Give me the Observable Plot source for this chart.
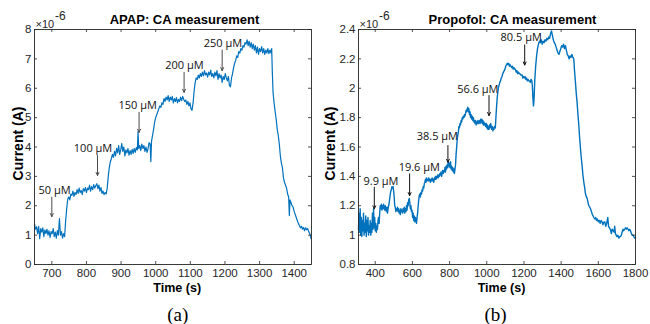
<!DOCTYPE html>
<html>
<head>
<meta charset="utf-8">
<script src="https://cdn.jsdelivr.net/npm/d3@7"></script>
<script src="https://cdn.jsdelivr.net/npm/@observablehq/plot@0.6"></script>
<style>
  html, body { margin: 0; padding: 0; background: #fff; }
  #wrap { position: relative; width: 650px; height: 324px; overflow: hidden; }
  #wrap > div { position: absolute; top: 0; }
  #left { left: 0; }
  #right { left: 325px; }
</style>
</head>
<body>
<div id="wrap"><div id="left"></div><div id="right"></div></div>
<script>
// ---------- Data (current in units of 1e-6 A) ----------
const apapTicksX = [700, 800, 900, 1000, 1100, 1200, 1300, 1400];
const apapTicksY = [0, 1, 2, 3, 4, 5, 6, 7, 8];
const propTicksX = [400, 600, 800, 1000, 1200, 1400, 1600, 1800];
const propTicksY = [0.8, 1.0, 1.2, 1.4, 1.6, 1.8, 2.0, 2.2, 2.4];

const apapSeries = [
[650,1.38],[653,1.2],[656,1.28],[659,1.05],[662,1.3],[665,0.88],[668,1.22],[671,1.1],[674,1.25],[677,0.95],
[680,1.18],[683,1.05],[686,1.2],[689,1.0],[692,1.15],[695,0.92],[698,1.12],[701,1.05],[704,1.22],[707,0.95],
[710,1.1],[713,0.9],[716,1.15],[719,1.0],[722,1.56],[725,1.0],[728,1.12],[731,0.9],[734,1.05],[737,0.95],
[740,1.5],[743,1.9],[746,2.23],[749,2.3],[752,2.2],[755,2.4],[758,2.35],[761,2.5],[764,2.32],[767,2.45],
[770,2.38],[773,2.55],[776,2.42],[779,2.6],[782,2.45],[785,2.52],[788,2.38],[791,2.58],[794,2.5],[797,2.62],
[800,2.45],[803,2.6],[806,2.55],[809,2.7],[812,2.5],[815,2.65],[818,2.55],[821,2.72],[824,2.6],[827,2.68],
[830,2.75],[833,2.58],[836,2.7],[839,2.5],[842,2.62],[845,2.42],[848,2.5],[851,2.38],[854,2.45],[857,2.4],
[860,2.6],[863,3.0],[866,3.3],[869,3.5],[872,3.6],[875,3.75],[878,3.65],[881,3.85],[884,3.7],[887,3.95],
[890,3.8],[893,4.05],[896,3.75],[899,3.9],[902,4.12],[905,3.85],[908,4.0],[911,3.7],[914,3.9],[917,3.8],
[920,3.95],[923,3.72],[926,3.88],[929,3.75],[932,3.92],[935,3.78],[938,3.95],[941,3.82],[944,3.98],[947,3.9],
[949,4.52],[951,3.95],[954,4.05],[957,3.88],[960,4.1],[963,3.95],[966,4.05],[969,3.85],[972,4.0],[975,3.82],
[978,3.95],[981,4.15],[984,4.1],[986,3.5],[988,4.2],[991,4.4],[994,4.6],[997,4.85],[1000,5.0],[1003,5.1],
[1006,5.2],[1009,5.3],[1012,5.4],[1015,5.35],[1018,5.5],[1021,5.45],[1024,5.65],[1027,5.55],[1030,5.7],[1033,5.6],
[1036,5.75],[1039,5.55],[1042,5.7],[1045,5.6],[1048,5.72],[1051,5.5],[1054,5.65],[1057,5.55],[1060,5.68],[1063,5.5],
[1066,5.62],[1069,5.55],[1072,5.7],[1075,5.58],[1078,5.72],[1081,5.62],[1084,5.55],[1087,5.6],[1090,5.45],[1093,5.55],
[1096,5.4],[1099,5.5],[1102,5.3],[1105,5.25],[1108,5.5],[1111,5.9],[1114,6.2],[1117,6.35],[1120,6.3],[1123,6.45],
[1126,6.35],[1129,6.5],[1132,6.4],[1135,6.55],[1138,6.42],[1141,6.6],[1144,6.45],[1147,6.52],[1150,6.38],[1153,6.55],
[1156,6.45],[1159,6.62],[1162,6.4],[1165,6.5],[1168,6.35],[1171,6.55],[1174,6.42],[1177,6.6],[1180,6.3],[1183,6.5],
[1186,6.35],[1189,6.45],[1192,6.2],[1195,6.4],[1198,6.3],[1201,6.5],[1204,6.35],[1207,6.25],[1210,6.4],[1213,6.1],
[1216,6.05],[1219,6.35],[1222,6.5],[1225,6.7],[1228,6.85],[1231,6.95],[1234,7.1],[1237,7.05],[1240,7.25],[1243,7.2],
[1246,7.35],[1249,7.3],[1252,7.45],[1255,7.4],[1258,7.55],[1261,7.5],[1264,7.65],[1267,7.45],[1270,7.6],[1273,7.4],
[1276,7.55],[1279,7.35],[1282,7.5],[1285,7.3],[1288,7.45],[1291,7.2],[1294,7.4],[1297,7.15],[1300,7.35],[1303,7.25],
[1306,7.42],[1309,7.2],[1312,7.35],[1315,7.15],[1318,7.3],[1321,7.2],[1324,7.35],[1327,7.18],[1330,7.3],[1333,7.2],
[1335,7.35],[1337,6.5],[1339,5.85],[1342,5.5],[1345,5.2],[1348,4.95],[1351,4.6],[1354,4.4],[1357,4.1],[1360,3.7],
[1363,3.45],[1366,3.3],[1369,2.95],[1372,2.8],[1375,2.7],[1378,2.6],[1381,2.4],[1384,2.3],[1386,1.67],[1388,2.2],
[1391,2.1],[1394,2.0],[1397,1.95],[1400,1.8],[1403,1.7],[1406,1.6],[1409,1.5],[1412,1.4],[1415,1.33],[1418,1.25],
[1421,1.3],[1424,1.2],[1427,1.26],[1430,1.15],[1433,1.25],[1436,1.18],[1439,1.22],[1442,1.12],[1445,1.05],[1449,0.87]
];

const propSeries = [
[310,1.04],[313,1.15],[316,1.02],[319,1.18],[322,1.0],[325,1.12],[328,0.99],[331,1.1],[334,1.03],[337,1.15],
[340,1.0],[343,1.08],[346,1.02],[349,1.13],[352,0.99],[355,1.1],[358,1.03],[361,1.12],[364,1.0],[367,1.06],
[370,1.02],[373,1.1],[376,1.0],[379,1.08],[382,1.02],[385,1.15],[388,1.04],[391,1.18],[394,1.05],[397,1.12],
[400,1.03],[403,1.08],[406,1.02],[409,1.06],[412,1.04],[415,1.1],[418,1.12],[421,1.08],[424,1.15],[427,1.2],
[430,1.18],[433,1.21],[436,1.17],[439,1.2],[442,1.18],[445,1.21],[448,1.19],[451,1.17],[454,1.2],[457,1.18],
[460,1.16],[463,1.19],[466,1.15],[469,1.18],[472,1.2],[475,1.22],[478,1.25],[481,1.28],[484,1.3],[487,1.31],
[490,1.33],[493,1.32],[496,1.33],[499,1.3],[502,1.26],[505,1.2],[508,1.19],[511,1.16],[514,1.18],[517,1.17],
[520,1.19],[523,1.16],[526,1.18],[529,1.15],[532,1.17],[535,1.14],[538,1.18],[541,1.16],[544,1.17],[547,1.15],
[550,1.18],[553,1.16],[556,1.19],[559,1.15],[562,1.18],[565,1.16],[568,1.2],[571,1.17],[574,1.22],[577,1.2],
[580,1.24],[583,1.25],[586,1.22],[589,1.18],[592,1.2],[595,1.16],[598,1.17],[601,1.12],[604,1.15],[607,1.1],
[610,1.13],[613,1.09],[616,1.12],[619,1.1],[622,1.08],[625,1.12],[628,1.15],[631,1.2],[634,1.24],[637,1.27],
[640,1.28],[643,1.26],[646,1.29],[649,1.28],[652,1.31],[655,1.3],[658,1.33],[661,1.32],[664,1.35],[667,1.36],
[670,1.38],[673,1.36],[676,1.39],[679,1.37],[682,1.38],[685,1.37],[688,1.39],[691,1.37],[694,1.38],[697,1.36],
[700,1.38],[703,1.37],[706,1.39],[709,1.37],[712,1.38],[715,1.36],[718,1.39],[721,1.38],[724,1.4],[727,1.38],
[730,1.4],[733,1.39],[736,1.41],[739,1.39],[742,1.41],[745,1.4],[748,1.42],[751,1.41],[754,1.43],[757,1.4],
[760,1.42],[763,1.44],[766,1.42],[769,1.44],[772,1.43],[775,1.46],[778,1.43],[781,1.47],[784,1.45],[787,1.48],
[790,1.46],[793,1.5],[796,1.47],[799,1.49],[802,1.46],[805,1.5],[808,1.45],[811,1.47],[814,1.44],[817,1.46],
[820,1.43],[823,1.45],[826,1.42],[829,1.45],[832,1.48],[835,1.55],[838,1.6],[841,1.65],[844,1.68],[847,1.7],
[850,1.74],[853,1.73],[856,1.76],[859,1.75],[862,1.78],[865,1.77],[868,1.8],[871,1.79],[874,1.81],[877,1.8],
[880,1.82],[883,1.81],[886,1.83],[889,1.85],[892,1.84],[895,1.86],[898,1.87],[901,1.84],[904,1.86],[907,1.82],
[910,1.84],[913,1.8],[916,1.82],[919,1.79],[922,1.81],[925,1.78],[928,1.8],[931,1.77],[934,1.78],[937,1.76],
[940,1.78],[943,1.75],[946,1.77],[949,1.76],[952,1.78],[955,1.76],[958,1.77],[961,1.78],[964,1.76],[967,1.79],
[970,1.77],[973,1.79],[976,1.76],[979,1.78],[982,1.75],[985,1.77],[988,1.75],[991,1.76],[994,1.74],[997,1.76],
[1000,1.73],[1003,1.75],[1006,1.72],[1009,1.74],[1012,1.72],[1015,1.75],[1018,1.73],[1021,1.76],[1024,1.74],[1027,1.72],
[1030,1.74],[1033,1.71],[1036,1.73],[1039,1.72],[1042,1.74],[1046,1.73],[1050,1.82],[1054,1.9],[1058,1.96],[1062,2.0],
[1066,2.02],[1070,2.04],[1074,2.05],[1078,2.07],[1082,2.08],[1086,2.1],[1090,2.11],[1094,2.12],[1098,2.13],[1102,2.15],
[1106,2.16],[1110,2.17],[1114,2.16],[1118,2.17],[1122,2.15],[1126,2.16],[1130,2.15],[1134,2.14],[1138,2.15],[1142,2.13],
[1146,2.14],[1150,2.13],[1154,2.13],[1158,2.11],[1162,2.12],[1166,2.1],[1170,2.11],[1174,2.1],[1178,2.1],[1182,2.09],
[1186,2.09],[1190,2.09],[1194,2.07],[1198,2.08],[1202,2.07],[1206,2.08],[1210,2.06],[1214,2.07],[1218,2.05],[1222,2.06],
[1226,2.05],[1230,2.05],[1234,2.04],[1238,2.06],[1242,2.05],[1245,2.02],[1248,1.94],[1251,1.88],[1254,1.92],[1258,2.05],
[1263,2.15],[1268,2.22],[1273,2.27],[1278,2.3],[1283,2.32],[1288,2.31],[1293,2.33],[1298,2.3],[1303,2.32],[1308,2.31],
[1313,2.33],[1318,2.32],[1323,2.34],[1328,2.33],[1333,2.35],[1338,2.34],[1343,2.37],[1348,2.39],[1353,2.36],[1358,2.33],
[1363,2.31],[1368,2.3],[1373,2.28],[1378,2.26],[1383,2.24],[1388,2.23],[1393,2.25],[1398,2.27],[1403,2.29],[1408,2.28],
[1413,2.3],[1418,2.27],[1423,2.29],[1428,2.26],[1433,2.23],[1438,2.22],[1443,2.2],[1448,2.22],[1453,2.21],[1458,2.23],
[1463,2.21],[1468,2.2],[1472,2.12],[1477,2.04],[1481,1.97],[1486,1.9],[1490,1.83],[1495,1.75],[1499,1.67],[1504,1.59],
[1508,1.53],[1513,1.47],[1517,1.41],[1522,1.36],[1527,1.32],[1531,1.28],[1536,1.26],[1540,1.25],[1545,1.22],[1549,1.2],
[1554,1.19],[1558,1.18],[1563,1.16],[1568,1.14],[1572,1.13],[1576,1.12],[1581,1.11],[1586,1.12],[1590,1.1],[1595,1.11],
[1600,1.09],[1605,1.1],[1610,1.08],[1615,1.1],[1620,1.09],[1625,1.07],[1630,1.09],[1635,1.09],[1640,1.06],[1645,1.08],
[1651,1.12],[1655,1.06],[1660,1.05],[1665,1.04],[1670,1.01],[1675,1.04],[1680,1.03],[1685,1.02],[1688,1.06],[1692,1.01],
[1696,1.0],[1700,0.99],[1705,1.0],[1710,0.98],[1715,0.99],[1719,0.99],[1724,1.0],[1728,1.02],[1733,1.04],[1737,1.03],
[1742,1.04],[1746,1.05],[1751,1.04],[1755,1.05],[1760,1.04],[1764,1.03],[1769,1.04],[1773,1.03],[1778,1.01],[1782,1.0],
[1787,1.0],[1791,0.99],[1796,0.98],[1800,0.98]
];

// Annotations: arrow x, arrow top, arrow tip, label x, label y (data units)
const apapLabels = ["50 μM", "100 μM", "150 μM", "200 μM", "250 μM"];
const apapArrowX = [700, 832, 952, 1082, 1192];
const apapArrowTop = [2.29, 3.71, 5.18, 6.54, 7.3];
const apapArrowTip = [1.63, 3.03, 4.5, 5.86, 6.6];
const apapLabelX = [708, 819, 948, 1083, 1194];
const apapLabelY = [2.52, 3.96, 5.43, 6.79, 7.53];

const propLabels = ["9.9 μM", "19.6 μM", "38.5 μM", "56.6 μM", "80.5 μM"];
const propArrowX = [395, 585, 791, 1012, 1204];
const propArrowTop = [1.326, 1.417, 1.61, 1.95, 2.295];
const propArrowTip = [1.179, 1.269, 1.496, 1.814, 2.158];
const propLabelX = [431, 637, 734, 952, 1185];
const propLabelY = [1.365, 1.462, 1.671, 1.995, 2.346];

// ---------- Drawing ----------
const AX = "#262626";
const SANS = "Liberation Sans, Arial, Helvetica, sans-serif";

function panel(cfg) {
  const W = 325, H = 324, mt = 29, mb = 60;
  const ml = cfg.ml, mr = cfg.mr;
  const pw = W - ml - mr, ph = H - mt - mb;
  const ann = cfg.labels.map((l, i) => ({
    label: l, x: cfg.ax[i], y1: cfg.atop[i], y2: cfg.atip[i], lx: cfg.lx[i], ly: cfg.ly[i]
  }));
  const series = cfg.series.map(([t, v]) => ({t, v}));
  const txt = (s, X, Y, o) => Plot.text([s], {
    frameAnchor: "top-left", dx: X - ml, dy: Y - mt, text: d => d,
    lineAnchor: "middle", textAnchor: "middle", fill: AX, ...o
  });
  return Plot.plot({
    width: W, height: H,
    marginTop: mt, marginBottom: mb, marginLeft: ml, marginRight: mr,
    style: {fontFamily: SANS, fontSize: "11px", color: AX, background: "transparent", overflow: "visible"},
    x: {domain: cfg.xd},
    y: {domain: cfg.yd},
    marks: [
      Plot.line(series, {x: "t", y: "v", stroke: "#0072BD", strokeWidth: cfg.sw}),
      Plot.frame({stroke: AX, strokeWidth: 0.9}),
      Plot.tickX(cfg.xt, {x: d => d, insetTop: ph - 3, stroke: AX, strokeWidth: 0.8}),
      Plot.tickX(cfg.xt, {x: d => d, insetBottom: ph - 3, stroke: AX, strokeWidth: 0.8}),
      Plot.tickY(cfg.yt, {y: d => d, insetRight: pw - 3, stroke: AX, strokeWidth: 0.8}),
      Plot.tickY(cfg.yt, {y: d => d, insetLeft: pw - 3, stroke: AX, strokeWidth: 0.8}),
      Plot.axisX({ticks: cfg.xt, tickSize: 0, tickPadding: 4, tickFormat: d => String(d), label: null, fontSize: 11.5, fill: AX}),
      Plot.axisY({ticks: cfg.yt, tickSize: 0, tickPadding: 3, tickFormat: cfg.yf, label: null, fontSize: 11.5, fill: AX}),
      Plot.arrow(ann, {x: "x", y1: "y1", y2: "y2", stroke: cfg.arrowColor, strokeWidth: 1, headLength: 5, headAngle: 50}),
      Plot.text(ann, {x: "lx", y: "ly", text: "label", fontFamily: "Open Sans, Noto Sans, sans-serif", fontSize: 11, fill: "#111"}),
      txt(cfg.title, cfg.titleX, 19.8, {fontWeight: "bold", fontSize: 13, fill: "#000"}),
      txt("×10", cfg.expX, 23.5, {textAnchor: "start", fontSize: 11}),
      txt("-6", cfg.expX + 19.5, 15.5, {textAnchor: "start", fontSize: 12}),
      txt("Current (A)", cfg.ylabX, 143, {rotate: -90, fontWeight: "bold", fontSize: 14, fill: "#000"}),
      txt("Time (s)", cfg.xlabX, 287, {fontWeight: "bold", fontSize: 12.5, fill: "#000"}),
      txt(cfg.cap, cfg.capX, 314, {fontFamily: "Liberation Serif, Times New Roman, serif", fontSize: 19, fill: "#000"})
    ]
  });
}

document.getElementById("left").append(panel({
  ml: 34, mr: 14, xd: [650, 1450], yd: [0, 8], xt: apapTicksX, yt: apapTicksY,
  yf: d => String(d), series: apapSeries, sw: 1.2,
  labels: apapLabels, ax: apapArrowX, atop: apapArrowTop, atip: apapArrowTip, lx: apapLabelX, ly: apapLabelY,
  arrowColor: "#4a4a4a", title: "APAP: CA measurement", titleX: 184, expX: 35,
  ylabX: 17.7, xlabX: 176.7, cap: "(a)", capX: 177.3
}));
document.getElementById("right").append(panel({
  ml: 33, mr: 15, xd: [310, 1800], yd: [0.8, 2.4], xt: propTicksX, yt: propTicksY,
  yf: d => String(+d.toFixed(1)), series: propSeries, sw: 1.4,
  labels: propLabels, ax: propArrowX, atop: propArrowTop, atip: propArrowTip, lx: propLabelX, ly: propLabelY,
  arrowColor: "#111", title: "Propofol: CA measurement", titleX: 187, expX: 34,
  ylabX: 4.7, xlabX: 176, cap: "(b)", capX: 170
}));
</script>
</body>
</html>
